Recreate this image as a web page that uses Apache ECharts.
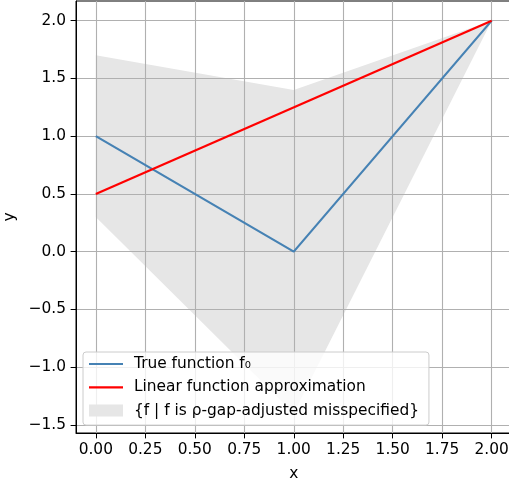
<!DOCTYPE html>
<html>
<head>
<meta charset="utf-8">
<script src="https://cdn.jsdelivr.net/npm/echarts@6/dist/echarts.min.js"></script>
<style>html,body{margin:0;padding:0;background:#fff;overflow:hidden;width:509px;height:485px}#c{width:513px;height:485px}</style>
</head>
<body>
<div id="c"></div>
<script>
// Data
const trueX = [0, 1, 2];
const trueY = [1.0, 0.0, 2.0];
const linX = [0, 2];
const linY = [0.5, 2.0];
const bandX = [0, 1, 2];
const bandUpper = [1.7, 1.4, 2.0];
const bandLower = [0.3, -1.4, 2.0];
const xTicks = [0, 0.25, 0.5, 0.75, 1.0, 1.25, 1.5, 1.75, 2.0];
const yTicks = [-1.5, -1.0, -0.5, 0.0, 0.5, 1.0, 1.5, 2.0];
const names = ['True function f\u2080', 'Linear function approximation', '{f | f is \u03c1-gap-adjusted misspecified}'];

const FONT = 'DejaVu Sans';
const FS = 15.4;
const fmtNum = (v, d) => { const s = Math.abs(v).toFixed(d); return (v < -1e-9 ? '\u2212' : '') + s; };

const chart = echarts.init(document.getElementById('c'));
chart.setOption({
  animation: false,
  backgroundColor: '#fff',
  textStyle: { fontFamily: FONT },
  grid: { left: 76, top: 1, right: 1.5, bottom: 52, containLabel: false, outerBoundsMode: 'none', show: true, borderColor: '#000', borderWidth: 1, backgroundColor: 'transparent' },
  xAxis: {
    type: 'value', min: -0.1, max: 2.1,
    name: 'x', nameLocation: 'middle', nameGap: 33,
    nameTextStyle: { fontFamily: FONT, fontSize: FS, color: '#000' },
    axisLine: { show: true, onZero: false, lineStyle: { color: '#000', width: 1 } },
    axisTick: { show: true, customValues: xTicks, length: 5.4, lineStyle: { color: '#000', width: 1 } },
    axisLabel: { customValues: xTicks, margin: 9, fontFamily: FONT, fontSize: FS, color: '#000', formatter: v => fmtNum(v, 2), hideOverlap: false },
    splitLine: { show: true, lineStyle: { color: '#b0b0b0', width: 1.1 } }
  },
  yAxis: {
    type: 'value', min: -1.57, max: 2.17,
    name: 'y', nameLocation: 'middle', nameGap: 53,
    nameTextStyle: { fontFamily: FONT, fontSize: FS, color: '#000' },
    axisLine: { show: true, onZero: false, lineStyle: { color: '#000', width: 1 } },
    axisTick: { show: true, customValues: yTicks, length: 5.4, lineStyle: { color: '#000', width: 1 } },
    axisLabel: { customValues: yTicks, margin: 10, fontFamily: FONT, fontSize: FS, color: '#000', formatter: v => fmtNum(v, 1) },
    splitLine: { show: true, lineStyle: { color: '#b0b0b0', width: 1.1 } }
  },
  legend: {
    orient: 'vertical', left: 83, top: 352,
    padding: [4.5, 10, 7, 6], itemGap: 8.3,
    itemWidth: 34, itemHeight: 12,
    backgroundColor: 'rgba(255,255,255,0.8)', borderColor: '#cccccc', borderWidth: 1, borderRadius: 3,
    textStyle: { fontFamily: FONT, fontSize: FS, color: '#000', lineHeight: 15, padding: [0, 0, 0, 6] },
    selectedMode: false,
    data: [
      { name: names[0], icon: 'path://M0,0h34v2.2h-34z' },
      { name: names[1], icon: 'path://M0,0h34v2.2h-34z' },
      { name: names[2], icon: 'path://M0,0h34v12h-34z' }
    ]
  },
  series: [
    {
      name: names[2], type: 'custom', z: -1,
      itemStyle: { color: '#e6e6e6' },
      data: bandX.map((x, i) => [x, bandUpper[i], bandLower[i]]),
      encode: { x: 0, y: [1, 2] },
      renderItem: function (params, api) {
        if (params.dataIndex !== 0) return;
        const pts = [];
        for (let i = 0; i < bandX.length; i++) pts.push(api.coord([bandX[i], bandUpper[i]]));
        for (let i = bandX.length - 1; i >= 0; i--) pts.push(api.coord([bandX[i], bandLower[i]]));
        return { type: 'polygon', shape: { points: pts }, style: { fill: '#e6e6e6' } };
      }
    },
    {
      name: names[0], type: 'line', showSymbol: false, symbol: 'none',
      color: '#4682b4', lineStyle: { color: '#4682b4', width: 2.2 },
      data: trueX.map((x, i) => [x, trueY[i]]), z: 3
    },
    {
      name: names[1], type: 'line', showSymbol: false, symbol: 'none',
      color: '#ff0000', lineStyle: { color: '#ff0000', width: 2.2 },
      data: linX.map((x, i) => [x, linY[i]]), z: 4
    }
  ]
});
</script>
</body>
</html>
